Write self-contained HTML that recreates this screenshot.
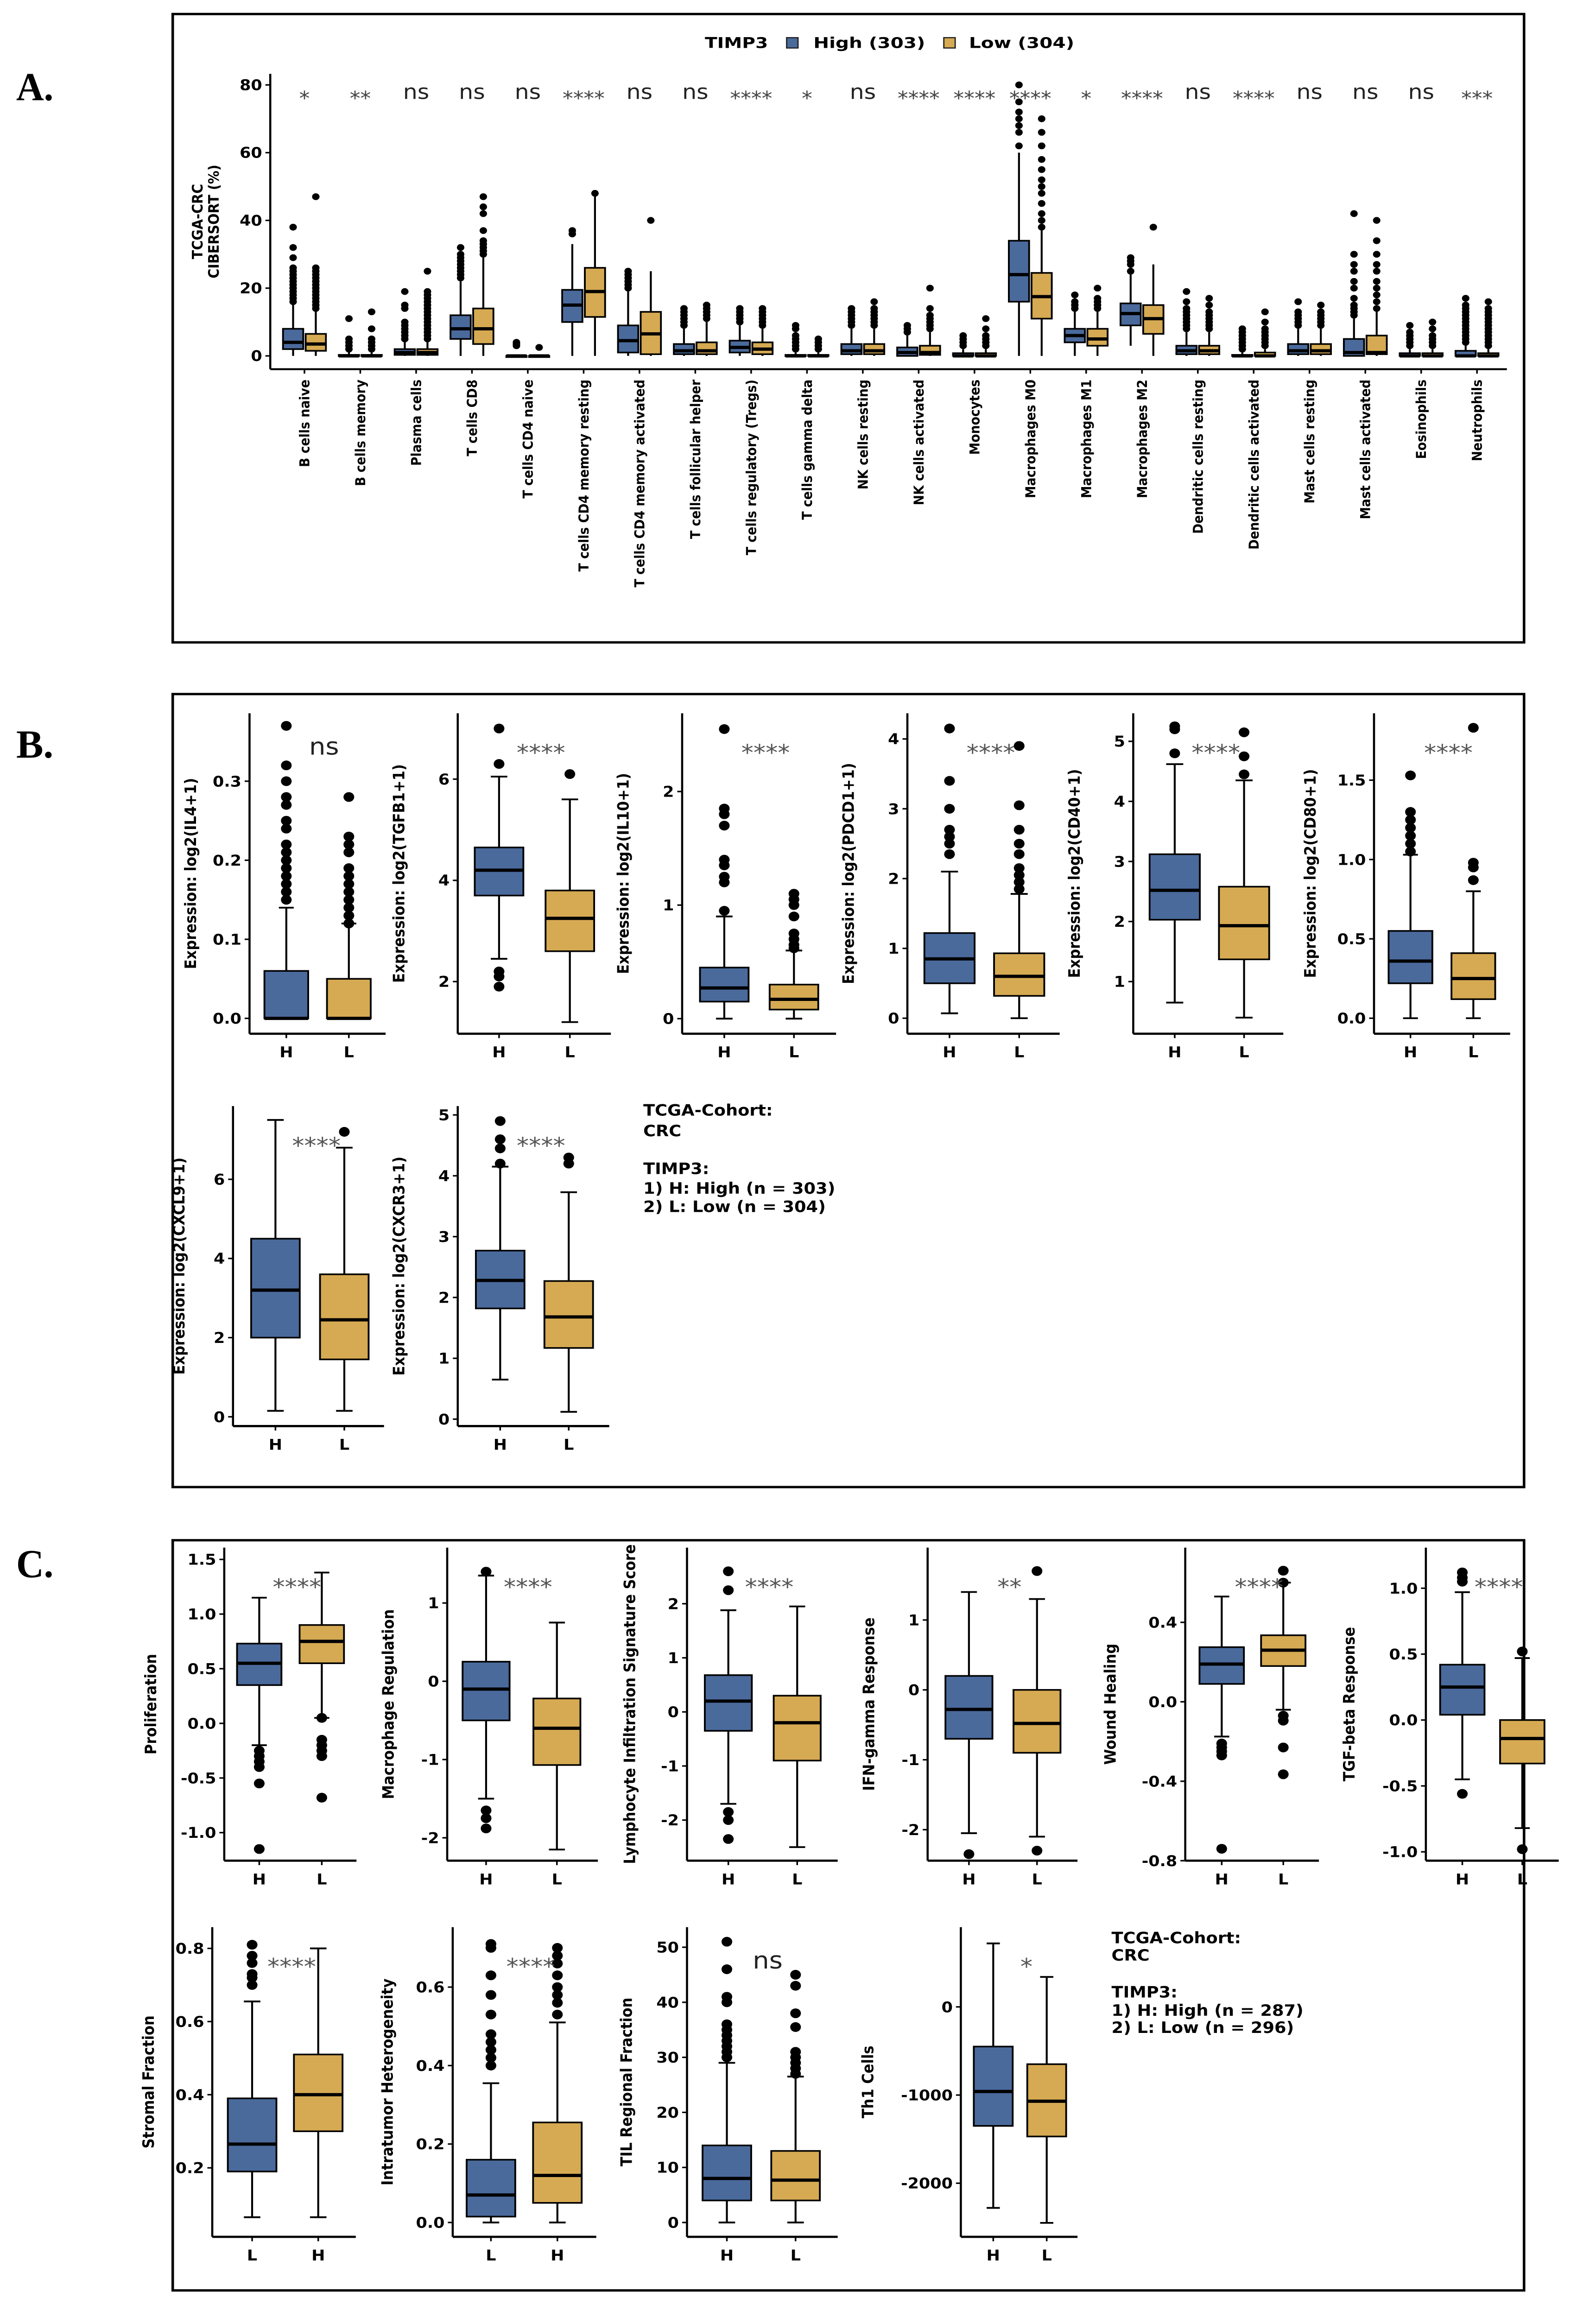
<!DOCTYPE html>
<html><head><meta charset="utf-8"><title>TIMP3 immune infiltration</title>
<style>
html,body{margin:0;padding:0;background:#fff;width:100%;height:100%;overflow:hidden;}
svg{display:block;width:100vw;height:100vh;}
text{font-family:"DejaVu Sans","Liberation Sans",sans-serif;}
.b{font-weight:bold;}
</style></head>
<body>
<svg id="fig" xmlns="http://www.w3.org/2000/svg" viewBox="0 0 985 1569" preserveAspectRatio="none">
<rect x="0" y="0" width="985" height="1569" fill="#fff"/>
<defs><clipPath id="clipC"><rect x="0" y="1045" width="985" height="520"/></clipPath></defs>
<rect x="106.6" y="9.5" width="834" height="425.5" fill="none" stroke="#000" stroke-width="1.6"/>
<rect x="106.6" y="470" width="834" height="537" fill="none" stroke="#000" stroke-width="1.6"/>
<rect x="106.6" y="1043" width="834" height="508" fill="none" stroke="#000" stroke-width="1.6"/>
<text x="10" y="68" font-weight="bold" font-size="27" textLength="23" lengthAdjust="spacingAndGlyphs" style="font-family:'Liberation Serif',serif">A.</text>
<text x="10" y="513" font-weight="bold" font-size="27" textLength="23" lengthAdjust="spacingAndGlyphs" style="font-family:'Liberation Serif',serif">B.</text>
<text x="10" y="1068" font-weight="bold" font-size="27" textLength="23" lengthAdjust="spacingAndGlyphs" style="font-family:'Liberation Serif',serif">C.</text>
<g id="legendA">
<text class="b" x="435" y="32.5" font-size="10" textLength="39" lengthAdjust="spacingAndGlyphs">TIMP3</text>
<rect x="485.5" y="25.5" width="7" height="7" fill="#4a6a9c" stroke="#222" stroke-width="0.8"/>
<text class="b" x="502" y="32.5" font-size="10" textLength="69" lengthAdjust="spacingAndGlyphs">High (303)</text>
<rect x="582.5" y="25.5" width="7" height="7" fill="#d6aa52" stroke="#222" stroke-width="0.8"/>
<text class="b" x="598" y="32.5" font-size="10" textLength="65" lengthAdjust="spacingAndGlyphs">Low (304)</text>
</g>
<g id="gA"></g>
<g id="gB"></g>
<g id="gC" clip-path="url(#clipC)"></g>
</svg>
<script>
// ---------- Panel A data ----------
const aCategories = ["B cells naive","B cells memory","Plasma cells","T cells CD8","T cells CD4 naive","T cells CD4 memory resting","T cells CD4 memory activated","T cells follicular helper","T cells regulatory (Tregs)","T cells gamma delta","NK cells resting","NK cells activated","Monocytes","Macrophages M0","Macrophages M1","Macrophages M2","Dendritic cells resting","Dendritic cells activated","Mast cells resting","Mast cells activated","Eosinophils","Neutrophils"];
const aSig = ["*","**","ns","ns","ns","****","ns","ns","****","*","ns","****","****","****","*","****","ns","****","ns","ns","ns","***"];
const aHighStats = [[0,2,4,8,16],[0,0,0,0.3,1.5],[0,0.3,1,2,5],[0,5,8,12,22],[0,0,0,0,0.3],[0,10,15,19.5,33],[0,1,4.5,9,19],[0,0.5,1.5,3.5,8],[0,1,2.5,4.5,9],[0,0,0,0.3,1],[0,0.5,1.5,3.5,8],[0,0,1,2.5,6],[0,0,0,0.8,2],[0,16,24,34,60],[0,4,6,8,13],[3,9,12.5,15.5,24],[0,0.5,1.5,3,7],[0,0,0,0.3,1],[0,0.5,1.5,3.5,8],[0,0,1,5,11],[0,0,0,0.8,2],[0,0,0,1.5,3]];
const aLowStats = [[0,1.5,3.5,6.5,14],[0,0,0,0.3,1.5],[0,0.3,1,2,5],[0,3.5,8,14,29],[0,0,0,0,0.3],[0,11.5,19,26,47],[0,0.5,6.5,13,25],[0,0.5,1.5,4,10],[0,0.5,2,4,8],[0,0,0,0.3,1],[0,0.5,1.5,3.5,8],[0,0.3,1,3,7],[0,0,0,0.8,2],[0,11,17.5,24.5,37],[0,3,5,8,13],[0,6.5,11,15,27],[0,0.5,1.5,3,7],[0,0,0,1,2],[0,0.5,1.5,3.5,8],[0,0.5,1,6,13],[0,0,0,0.8,2],[0,0,0,0.8,2]];
const aHighOut = [[16,17,18,19,20,21,22,23,24,25,26,29,32,38],[2,3,4,5,11],[5,6,7,8,9,10,14,15,19],[23,24,25,26,27,28,29,30,32],[3,3.5,4],[36,37],[20,21,22,23,24,25],[9,10,11,12,13,14],[10,11,12,13,14],[2,3,4,5,6,8,9],[9,10,11,12,13,14],[7,8,9],[3,4,5,6],[62,66,68,70,72,75,80],[14,15,16,18],[25,27,28,29],[8,9,10,11,12,13,14,16,19],[2,3,4,5,6,7,8],[9,10,11,12,13,16],[12,13,14,15,17,20,22,25,27,30,42],[3,4,5,6,7,9],[4,5,6,7,8,9,10,11,12,13,14,15,17]];
const aLowOut = [[14,15,16,17,18,19,20,21,22,23,24,25,26,47],[2,3,4,5,8,13],[5,6,7,8,9,10,11,12,13,14,15,16,17,18,19,25],[30,31,32,33,34,37,42,44,47],[2.5],[48],[40],[11,12,13,14,15],[9,10,11,12,13,14],[2,3,4,5],[9,10,11,12,13,14,16],[8,9,10,11,12,14,20],[3,4,5,6,8,11],[38,40,42,45,48,50,52,55,58,62,66,70],[14,15,16,17,20],[38],[8,9,10,11,12,13,15,17],[3,4,5,6,7,8,10,13],[9,10,11,12,13,15],[14,16,18,20,22,25,27,30,34,40],[3,4,5,6,8,10],[3,4,5,6,7,8,9,10,11,12,13,14,16]];
const aTicks = [0,20,40,60,80];

// ---------- Panel B data ----------
const bLabels = ["Expression: log2(IL4+1)","Expression: log2(TGFB1+1)","Expression: log2(IL10+1)","Expression: log2(PDCD1+1)","Expression: log2(CD40+1)","Expression: log2(CD80+1)","Expression: log2(CXCL9+1)","Expression: log2(CXCR3+1)"];
const bSig = ["ns","****","****","****","****","****","****","****"];
const bHigh = [[0,0,0,0.06,0.14],[2.45,3.7,4.2,4.65,6.05],[0,0.15,0.27,0.45,0.9],[0.07,0.5,0.85,1.22,2.1],[0.65,2.03,2.52,3.12,4.62],[0,0.22,0.36,0.55,1.03],[0.15,2.0,3.2,4.5,7.5],[0.65,1.82,2.28,2.77,4.15]];
const bLow = [[0,0,0,0.05,0.12],[1.2,2.6,3.25,3.8,5.6],[0,0.08,0.17,0.3,0.6],[0,0.32,0.6,0.93,1.78],[0.4,1.37,1.93,2.58,4.35],[0,0.12,0.25,0.41,0.8],[0.15,1.45,2.45,3.6,6.8],[0.12,1.17,1.68,2.27,3.73]];
const bHighOut = [[0.15,0.16,0.17,0.18,0.19,0.2,0.21,0.22,0.24,0.25,0.27,0.28,0.3,0.32,0.37],[2.2,2.1,1.9,6.3,7.0],[0.95,1.2,1.25,1.35,1.4,1.7,1.8,1.85,2.55],[2.35,2.5,2.6,2.7,3.0,3.4,4.15],[4.8,5.2,5.25],[1.05,1.1,1.15,1.2,1.25,1.3,1.53],[],[4.2,4.45,4.6,4.9]];
const bLowOut = [[0.12,0.13,0.14,0.15,0.16,0.17,0.18,0.19,0.21,0.22,0.23,0.28],[6.1],[0.62,0.65,0.7,0.75,0.9,1.0,1.05,1.1],[1.85,1.95,2.05,2.15,2.35,2.5,2.7,3.05,3.9],[4.45,4.75,5.15],[0.87,0.95,0.98,1.83],[7.2],[4.2,4.3]];
const bTicks = [[0,0.1,0.2,0.3],[2,4,6],[0,1,2],[0,1,2,3,4],[1,2,3,4,5],[0,0.5,1,1.5],[0,2,4,6],[0,1,2,3,4,5]];
const bTickLabels = [["0.0","0.1","0.2","0.3"],["2","4","6"],["0","1","2"],["0","1","2","3","4"],["1","2","3","4","5"],["0.0","0.5","1.0","1.5"],["0","2","4","6"],["0","1","2","3","4","5"]];

// ---------- Panel C data ----------
const cLabels = ["Proliferation","Macrophage Regulation","Lymphocyte Infiltration Signature Score","IFN-gamma Response","Wound Healing","TGF-beta Response","Stromal Fraction","Intratumor Heterogeneity","TIL Regional Fraction","Th1 Cells"];
const cSig = ["****","****","****","**","****","****","****","****","ns","*"];
const cGroupLabels = [["H","L"],["H","L"],["H","L"],["H","L"],["H","L"],["H","L"],["L","H"],["L","H"],["H","L"],["H","L"]];
const cFirst = [[-0.2,0.35,0.55,0.73,1.15],[-1.5,-0.5,-0.1,0.25,1.35],[-1.7,-0.35,0.2,0.68,1.88],[-2.05,-0.7,-0.28,0.2,1.4],[-0.175,0.09,0.19,0.275,0.53],[-0.45,0.04,0.25,0.42,0.97],[0.065,0.19,0.265,0.39,0.655],[0,0.015,0.07,0.16,0.355],[0,4,8,14,29],[-2280,-1350,-960,-450,720]];
const cSecond = [[0.05,0.55,0.75,0.9,1.38],[-2.15,-1.07,-0.6,-0.22,0.75],[-2.5,-0.9,-0.2,0.3,1.95],[-2.1,-0.9,-0.48,0,1.3],[-0.04,0.18,0.26,0.335,0.6],[-0.82,-0.33,-0.14,0,0.47],[0.065,0.3,0.4,0.51,0.8],[0,0.05,0.12,0.255,0.51],[0,4,7.7,13,26.5],[-2450,-1470,-1070,-650,340]];
const cFirstOut = [[-0.25,-0.3,-0.35,-0.4,-0.55,-1.15],[1.4,-1.65,-1.75,-1.88],[2.6,2.25,-1.85,-2.0,-2.35],[-2.35],[-0.21,-0.23,-0.25,-0.27,-0.74],[1.05,1.08,1.12,-0.56],[0.7,0.72,0.73,0.76,0.78,0.81],[0.4,0.42,0.44,0.46,0.48,0.53,0.58,0.63,0.7,0.71],[30,31,32,33,34,35,36,40,41,46,51],[]];
const cSecondOut = [[0.05,-0.15,-0.2,-0.25,-0.3,-0.68],[],[],[1.7,-2.3],[0.6,0.66,-0.07,-0.095,-0.23,-0.365],[0.52,-0.98],[],[0.53,0.56,0.58,0.6,0.63,0.66,0.68,0.7],[27,28,29,30,31,35.5,38,43,45],[]];
const cTicks = [[-1,-0.5,0,0.5,1,1.5],[-2,-1,0,1],[-2,-1,0,1,2],[-2,-1,0,1],[-0.8,-0.4,0,0.4],[-1,-0.5,0,0.5,1],[0.2,0.4,0.6,0.8],[0,0.2,0.4,0.6],[0,10,20,30,40,50],[-2000,-1000,0]];
const cTickLabels = [["-1.0","-0.5","0.0","0.5","1.0","1.5"],["-2","-1","0","1"],["-2","-1","0","1","2"],["-2","-1","0","1"],["-0.8","-0.4","0.0","0.4"],["-1.0","-0.5","0.0","0.5","1.0"],["0.2","0.4","0.6","0.8"],["0.0","0.2","0.4","0.6"],["0","10","20","30","40","50"],["-2000","-1000","0"]];

// ---------- layout (pixels, not data) ----------
const bLayout = [
 [154,238,700,483, 0,689.6,0.3,529, 176.7,215.3,27,-33],
 [282.5,377,700,483, 2,664.7,6,527.6, 308,351.7,30,-33],
 [421,516,700,483, 0,689.8,2,536, 447,490,30,-33],
 [560,654,700,483, 0,689.5,4,500.4, 586,629,31,-33],
 [699.4,792,700,483, 1,664.7,5,502, 725,767.8,31,-33],
 [848,932,700,483, 0,689.5,1.5,528.3, 870.5,909.3,27,-36],
 [143.8,237,965.7,749, 0,959.4,6,798.6, 170,212.5,30,-30],
 [282.5,376,965.7,749, 0,961,5,755, 308.7,351,30,-33]];
const cLayout = [
 [138.4,220,1260,1048, 0,1167,-1,1241, 160,198.6,27.4,-42],
 [276,369,1260,1048, 1,1085.5,-2,1244.5, 300,343.7,29,-33],
 [424,517,1260,1048, 2,1086,-2,1232.5, 449.5,492,29,-32],
 [572.5,665,1260,1048, 1,1097,-2,1239, 598,640,29,-33],
 [731.5,814,1260,1048, 0.4,1098.6,-0.8,1260, 754,792,27.4,-43],
 [880,962,1260,1048, 1,1075.5,-1,1254, 902.5,939.5,27.4,-44],
 [131,219.6,1514.7,1305, 0.8,1319.4,0.2,1468, 155.6,196.4,30,-36],
 [279.4,368,1514.7,1305, 0.6,1345.6,0,1505, 303,344,30,-37],
 [424,517,1514.7,1305, 50,1318.6,0,1505, 448.6,491,30,-34],
 [593,665,1514.7,1305, 0,1359,-2000,1478.4, 613,646,24,-54]];

const NS = "http://www.w3.org/2000/svg";
const BLUE = "#4a6a9c", GOLD = "#d6aa52";
function mk(parent, tag, attrs, txt){
  const el = document.createElementNS(NS, tag);
  for (const k in attrs) el.setAttribute(k, attrs[k]);
  if (txt !== undefined) el.textContent = txt;
  parent.appendChild(el);
  return el;
}
function linScale(v0,p0,v1,p1){ return v => p0 + (v - v0) * (p1 - p0) / (v1 - v0); }

function drawBox(g, cx, w, st, outs, color, y, r, caps, label){
  const grp = mk(g, "g", {});
  
  
  mk(grp, "line", {x1:cx, x2:cx, y1:y(st[0]), y2:y(st[4]), stroke:"#000", "stroke-width":1.2});
  if (caps) {
    mk(grp, "line", {x1:cx-w*0.17, x2:cx+w*0.17, y1:y(st[0]), y2:y(st[0]), stroke:"#000", "stroke-width":1.2});
    mk(grp, "line", {x1:cx-w*0.17, x2:cx+w*0.17, y1:y(st[4]), y2:y(st[4]), stroke:"#000", "stroke-width":1.2});
  }
  const top = y(st[3]), bot = y(st[1]);
  mk(grp, "rect", {x:cx-w/2, y:Math.min(top,bot), width:w, height:Math.max(Math.abs(bot-top),0.8), fill:color, stroke:"#000", "stroke-width":1.1});
  mk(grp, "line", {x1:cx-w/2, x2:cx+w/2, y1:y(st[2]), y2:y(st[2]), stroke:"#000", "stroke-width":2.2});
  outs.forEach(v => {
    const c = mk(grp, "circle", {cx:cx, cy:y(v), r:r, fill:"#000"});
    
    
  });
}

// ---------- Panel A ----------
(function(){
  const g = document.getElementById("gA");
  const y = linScale(0,241,80,57.5);
  const axX = 166.8, xAxY = 250, x0 = 187.9, step = 34.46;
  const xa = mk(g, "line", {x1:axX, x2:930, y1:xAxY, y2:xAxY, stroke:"#000", "stroke-width":1.3});
  
  
  const ya = mk(g, "line", {x1:axX, x2:axX, y1:50, y2:xAxY, stroke:"#000", "stroke-width":1.3});
  
  
  aTicks.forEach(t => {
    mk(g, "line", {x1:axX-3, x2:axX, y1:y(t), y2:y(t), stroke:"#000", "stroke-width":1});
    const tl = mk(g, "text", {x:axX-5, y:y(t)+3.5, "font-size":10, "font-weight":"bold", "text-anchor":"end"}, String(t));
    
    
  });
  const yt = mk(g, "text", {transform:"translate(125,150) rotate(-90)", "font-size":9, "font-weight":"bold", "text-anchor":"middle"});
  
  
  mk(yt, "tspan", {x:0, y:0}, "TCGA-CRC");
  mk(yt, "tspan", {x:0, y:10}, "CIBERSORT (%)");
  aCategories.forEach((cat, i) => {
    const cx = x0 + i*step;
    drawBox(g, cx-7, 12.5, aHighStats[i], aHighOut[i], BLUE, y, 2.3, false, cat + '-high');
    drawBox(g, cx+7, 12.5, aLowStats[i], aLowOut[i], GOLD, y, 2.3, false, cat + '-low');
    mk(g, "line", {x1:cx, x2:cx, y1:xAxY, y2:xAxY+3, stroke:"#000", "stroke-width":1});
    const lab = mk(g, "text", {transform:"translate("+(cx+3)+",257) rotate(-90)", "font-size":8.4, "font-weight":"bold", "text-anchor":"end"}, cat);
    
    
    const s = mk(g, "text", {x:cx, y:aSig[i]==="ns"?67:71, "font-size":aSig[i]==="ns"?14:13, fill:aSig[i]==="ns"?"#222":"#444", "text-anchor":"middle"}, aSig[i]);
    
    
  });
})();

// ---------- small multiples ----------
function drawSmall(g, L, label, sig, s1, s2, o1, o2, ticks, tickLabels, groups, colors, idx){
  const [ax,end,bot,top,v0,p0,v1,p1,c1,c2,bw,ldx] = L;
  const y = linScale(v0,p0,v1,p1);
  const sub = mk(g, "g", {});
  
  
  const ya = mk(sub, "line", {x1:ax, x2:ax, y1:top, y2:bot, stroke:"#000", "stroke-width":1.3});
  
  
  const xa = mk(sub, "line", {x1:ax, x2:end, y1:bot, y2:bot, stroke:"#000", "stroke-width":1.5});
  
  
  ticks.forEach((t, i) => {
    mk(sub, "line", {x1:ax-3, x2:ax, y1:y(t), y2:y(t), stroke:"#000", "stroke-width":1});
    const tl = mk(sub, "text", {x:ax-5, y:y(t)+3.6, "font-size":10, "font-weight":"bold", "text-anchor":"end"}, tickLabels[i]);
    
    
  });
  const yl = mk(sub, "text", {transform:"translate("+(ax+ldx)+","+((top+bot)/2)+") rotate(-90)", "font-size":9.6, "font-weight":"bold", "text-anchor":"middle"}, label);
  
  
  drawBox(sub, c1, bw, s1, o1, colors[0], y, 3.3, true, label + '-' + groups[0]);
  drawBox(sub, c2, bw, s2, o2, colors[1], y, 3.3, true, label + '-' + groups[1]);
  [c1,c2].forEach((c, i) => {
    mk(sub, "line", {x1:c, x2:c, y1:bot, y2:bot+3, stroke:"#000", "stroke-width":1});
    const xl = mk(sub, "text", {x:c, y:bot+16, "font-size":10, "font-weight":"bold", "text-anchor":"middle"}, groups[i]);
    
    
  });
  const sy = top + 26;
  const st = mk(sub, "text", {x:(c1+c2)/2+4, y:sig==="ns"?sy+2:sy+6, "font-size":sig==="ns"?16:15, fill:sig==="ns"?"#222":"#555", "text-anchor":"middle"}, sig);
  
  
}

(function(){
  const g = document.getElementById("gB");
  bLabels.forEach((lab, i) => {
    drawSmall(g, bLayout[i], lab, bSig[i], bHigh[i], bLow[i], bHighOut[i], bLowOut[i], bTicks[i], bTickLabels[i], ["H","L"], [BLUE,GOLD], 'b'+i);
  });
  const note = mk(g, "text", {x:397, y:755.5, "font-size":10.5, "font-weight":"bold"});
  
  
  [["TCGA-Cohort:",755.5],["CRC",769.5],["TIMP3:",795],["1) H: High (n = 303)",808.4],["2) L: Low (n = 304)",820.7]].forEach(l => mk(note, "tspan", {x:397, y:l[1]}, l[0]));
})();

(function(){
  const g = document.getElementById("gC");
  cLabels.forEach((lab, i) => {
    drawSmall(g, cLayout[i], lab, cSig[i], cFirst[i], cSecond[i], cFirstOut[i], cSecondOut[i], cTicks[i], cTickLabels[i], cGroupLabels[i], [BLUE,GOLD], 'c'+i);
  });
  const note = mk(g, "text", {x:686, y:1316, "font-size":10.5, "font-weight":"bold"});
  
  
  [["TCGA-Cohort:",1316],["CRC",1327.7],["TIMP3:",1352.6],["1) H: High (n = 287)",1365],["2) L: Low (n = 296)",1376.6]].forEach(l => mk(note, "tspan", {x:686, y:l[1]}, l[0]));
})();
</script>
</body></html>
